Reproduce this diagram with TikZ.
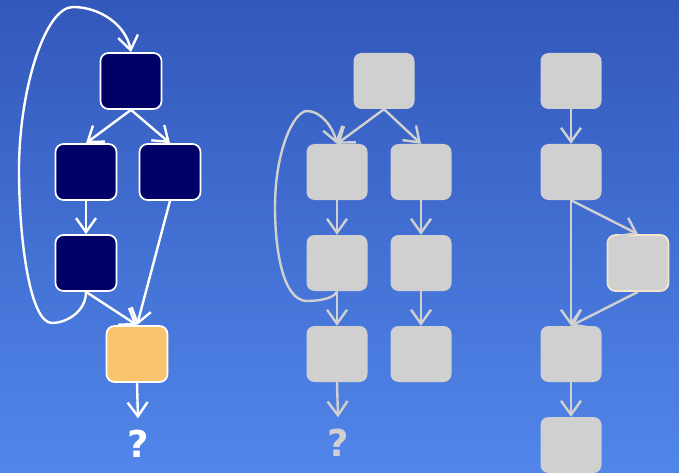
\documentclass[tikz,border=0pt]{standalone}
\usepackage{fontspec}
\setsansfont{DejaVu Sans}
\usetikzlibrary{arrows.meta}
\definecolor{c_bg_top}{HTML}{3258BA}
\definecolor{c_bg_bottom}{HTML}{5286EA}
\definecolor{c_navy}{HTML}{000066}
\definecolor{c_orange}{HTML}{F8C46E}
\definecolor{c_grey}{HTML}{D0D0D0}
\definecolor{c_cream}{HTML}{F5E6D0}
\def \EdgeWidth{2.4pt}

\begin{document}
\begin{tikzpicture}
[x=1pt,y=-1pt,font=\sffamily\bfseries,
 box/.style={rounded corners=8pt,minimum width=61pt,minimum height=56pt,inner sep=0pt},
 live/.style={box,draw=white,line width=1.7pt,fill=c_navy},
 dead/.style={box,fill=c_grey},
 edge/.style={line width=\EdgeWidth,-{Straight Barb[length=14pt,width=20pt]}},
 qmark/.style={inner xsep=0pt,inner ysep=11pt,text depth=0pt,anchor=base,font=\fontsize{37}{40}\sffamily\bfseries}]
	\useasboundingbox (0,0) rectangle (679,473);
	\shade[top color=c_bg_top,bottom color=c_bg_bottom] (0,0) rectangle (679,473);

	% first graph
	\node[live] (a1) at (131,81) {};
	\node[live] (b1) at (86,172) {};
	\node[live] (c1) at (170,172) {};
	\node[live] (d1) at (86,263) {};
	\node[live,fill=c_orange] (e1) at (137,354) {};
	\node[qmark,white] (q1) at (138,457) {?};
	\begin{scope}[white]
		\draw[edge] (a1.south) -- (b1.north);
		\draw[edge] (a1.south) -- (c1.north);
		\draw[edge] (b1.south) -- (d1.north);
		\draw[edge] (c1.south) -- (e1.north);
		\draw[edge] (d1.south) -- (e1.north);
		\draw[edge] (e1.south) -- (q1.north);
		\draw[edge] (d1.south) .. controls (86,312) and (66,323) .. (52,323)
			.. controls (30,323) and (19,240) .. (19,170)
			.. controls (19,90) and (45,7) .. (73,7)
			.. controls (100,7) and (126,25) .. (a1.north);
	\end{scope}

	% second graph
	\node[dead] (a2) at (384,81) {};
	\node[dead] (b2) at (337,172) {};
	\node[dead] (c2) at (421,172) {};
	\node[dead] (d2) at (337,263) {};
	\node[dead] (e2) at (421,263) {};
	\node[dead] (f2) at (337,354) {};
	\node[dead] (g2) at (421,354) {};
	\node[qmark,c_grey] (q2) at (338,456) {?};
	\begin{scope}[c_grey]
		\draw[edge] (a2.south) -- (b2.north);
		\draw[edge] (a2.south) -- (c2.north);
		\draw[edge] (b2.south) -- (d2.north);
		\draw[edge] (c2.south) -- (e2.north);
		\draw[edge] (d2.south) -- (f2.north);
		\draw[edge] (e2.south) -- (g2.north);
		\draw[edge] (f2.south) -- (q2.north);
		\draw[edge] (d2.south) .. controls (335,298) and (320,301) .. (307,301)
			.. controls (283,301) and (275,250) .. (275,207)
			.. controls (275,150) and (294,111) .. (307,111)
			.. controls (320,111) and (332,125) .. (b2.north);
	\end{scope}

	% third graph
	\node[dead] (a3) at (571,81) {};
	\node[dead] (b3) at (571,172) {};
	\node[dead,draw=c_cream,line width=1.7pt] (c3) at (638,263) {};
	\node[dead] (d3) at (571,354) {};
	\node[dead] (e3) at (571,445) {};
	\begin{scope}[c_grey]
		\draw[edge] (a3.south) -- (b3.north);
		\draw[edge] (b3.south) -- (c3.north);
		\draw[edge] (b3.south) -- (d3.north);
		\draw[edge] (c3.south) -- (d3.north);
		\draw[edge] (d3.south) -- (e3.north);
	\end{scope}
\end{tikzpicture}
\end{document}
